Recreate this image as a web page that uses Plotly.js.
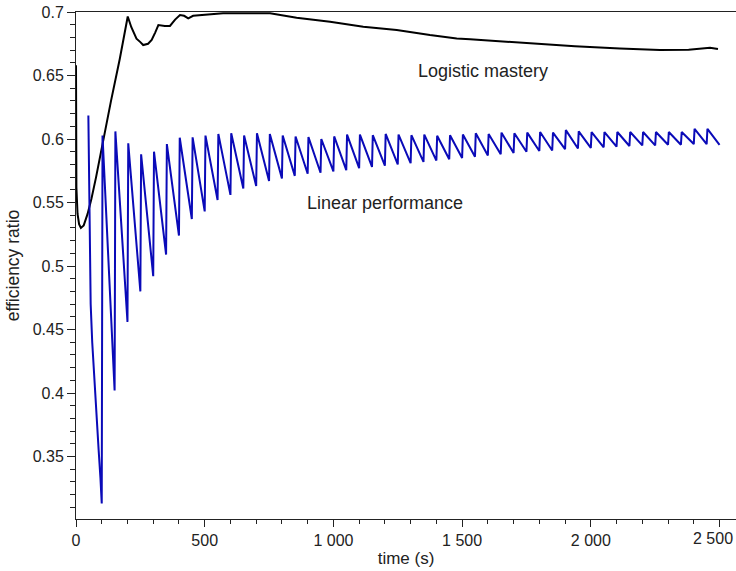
<!DOCTYPE html>
<html>
<head>
<meta charset="utf-8">
<script src="https://cdn.plot.ly/plotly-3.0.1.min.js"></script>
<style>html,body{margin:0;padding:0;background:#fff;}#chart{width:736px;height:571px;}</style>
</head>
<body>
<div id="chart"></div>
<script>
// Logistic mastery (black curve)
const masteryT = [0, 1.5, 6, 12, 19, 30, 45, 60, 78, 95, 110, 136, 170, 201, 215, 235, 249, 261, 280, 294, 308, 320, 345, 365, 385, 404, 420, 436, 455, 482, 530, 571, 650, 754, 857, 987, 1116, 1246, 1375, 1479, 1531, 1650, 1783, 1938, 2113, 2268, 2380, 2430, 2463, 2494];
const masteryV = [0.658, 0.562, 0.541, 0.533, 0.530, 0.532, 0.541, 0.553, 0.570, 0.588, 0.604, 0.630, 0.663, 0.6965, 0.688, 0.679, 0.6765, 0.674, 0.675, 0.678, 0.684, 0.6897, 0.689, 0.689, 0.694, 0.6976, 0.697, 0.695, 0.697, 0.6976, 0.6985, 0.699, 0.699, 0.699, 0.6955, 0.6923, 0.6884, 0.6858, 0.6818, 0.6792, 0.6786, 0.677, 0.6747, 0.673, 0.6712, 0.670, 0.6703, 0.6712, 0.6718, 0.6708];

// Linear performance (blue sawtooth): jump times, peak after each jump, value reached just before next jump
const jumpTimes = [48,100,150,200,250,300,350,400,450,500,550,600,650,700,750,800,850,900,950,1000,1050,1100,1150,1200,1250,1300,1350,1400,1450,1500,1550,1600,1650,1700,1750,1800,1850,1900,1950,2000,2050,2100,2150,2200,2250,2300,2350,2400,2450];
const peakValues = [0.6185, 0.6027, 0.606, 0.5966, 0.588, 0.590, 0.596, 0.601, 0.6013, 0.6027,
  0.604, 0.6045, 0.6027, 0.6045, 0.604, 0.6027, 0.602, 0.6015, 0.600, 0.602,
  0.6035, 0.6035, 0.603, 0.604, 0.6035, 0.603, 0.6035, 0.6025, 0.603, 0.6035,
  0.6045, 0.604, 0.605, 0.6045, 0.605, 0.6055, 0.605, 0.607, 0.606, 0.6055,
  0.6055, 0.6055, 0.6055, 0.6055, 0.6055, 0.6055, 0.6055, 0.608, 0.608];
const troughValues = [0.313, 0.402, 0.456, 0.480, 0.492, 0.509, 0.524, 0.537, 0.543, 0.552,
  0.556, 0.561, 0.563, 0.567, 0.569, 0.571, 0.5726, 0.5734, 0.5745, 0.5755,
  0.577, 0.578, 0.579, 0.580, 0.581, 0.582, 0.583, 0.584, 0.585, 0.586,
  0.587, 0.588, 0.589, 0.590, 0.5905, 0.591, 0.592, 0.5925, 0.593, 0.5935,
  0.594, 0.5945, 0.595, 0.595, 0.5955, 0.5955, 0.596, 0.596, 0.5953];
const endTime = 2500;
// readings inside the first (deep) decline
const earlyT = [50, 53, 57, 63, 71, 80, 88, 95];
const earlyV = [0.59, 0.53, 0.47, 0.44, 0.41, 0.38, 0.355, 0.333];
const riseSec = 3;

// x tick labels
const xTickVals = [0, 500, 1000, 1500, 2000, 2500];
const xTickText = ['0', '500', '1 000', '1 500', '2 000', '2 500'];

const perfX = [], perfY = [];
for (let k = 0; k < jumpTimes.length; k++) {
  const t0 = jumpTimes[k];
  const t1 = (k + 1 < jumpTimes.length) ? jumpTimes[k + 1] : endTime;
  perfX.push(k === 0 ? t0 : t0 + riseSec); perfY.push(peakValues[k]);
  for (let j = 0; j < earlyT.length; j++) {
    if (earlyT[j] > t0 && earlyT[j] < t1) { perfX.push(earlyT[j]); perfY.push(earlyV[j]); }
  }
  perfX.push(t1); perfY.push(troughValues[k]);
}

const FONT = 'Liberation Sans, Arial, sans-serif';
const ink = '#222';
const lastIdx = xTickVals.length - 1;
// the last tick label sits at the right edge of the window: drawn right-anchored so it stays whole
const shownTickText = xTickText.map((s, i) => i === lastIdx ? '' : s);

const data = [
  {x: masteryT, y: masteryV, type: 'scatter', mode: 'lines', line: {color: '#000', width: 2}, hoverinfo: 'skip'},
  {x: perfX, y: perfY, type: 'scatter', mode: 'lines', line: {color: '#0a0ab8', width: 2}, hoverinfo: 'skip'}
];

const layout = {
  width: 736, height: 571,
  margin: {l: 76, r: 0, t: 12, b: 52},
  paper_bgcolor: '#fff', plot_bgcolor: '#fff',
  showlegend: false,
  font: {family: FONT, size: 16, color: ink},
  xaxis: {
    range: [0, 2564], tickmode: 'array', tickvals: xTickVals, ticktext: shownTickText,
    ticks: 'outside', ticklen: 7, tickwidth: 1, tickcolor: ink,
    minor: {tickmode: 'linear', tick0: 0, dtick: 100, ticks: 'outside', ticklen: 4, tickwidth: 1, tickcolor: ink, showgrid: false},
    showline: true, linecolor: ink, linewidth: 1, mirror: true,
    showgrid: false, zeroline: false,
    tickfont: {family: FONT, size: 16, color: ink},
    title: {text: 'time (s)', font: {family: FONT, size: 17, color: ink}, standoff: 3}
  },
  yaxis: {
    range: [0.3008, 0.7], tick0: 0, dtick: 0.05,
    ticks: 'outside', ticklen: 8, tickwidth: 1, tickcolor: ink,
    minor: {dtick: 0.01, ticks: 'outside', ticklen: 5, tickwidth: 1, tickcolor: ink, showgrid: false},
    showline: true, linecolor: ink, linewidth: 1, mirror: false,
    showgrid: false, zeroline: false,
    tickfont: {family: FONT, size: 16, color: ink},
    title: {text: 'efficiency ratio', font: {family: FONT, size: 17.5, color: ink}, standoff: 8}
  },
  annotations: [
    {x: 1583, y: 0.6535, xref: 'x', yref: 'y', text: 'Logistic mastery', showarrow: false, xanchor: 'center', yanchor: 'middle', font: {family: FONT, size: 18, color: ink}},
    {x: 1200, y: 0.5493, xref: 'x', yref: 'y', text: 'Linear performance', showarrow: false, xanchor: 'center', yanchor: 'middle', font: {family: FONT, size: 18, color: ink}},
    {x: 1, y: 0, xref: 'paper', yref: 'paper', text: xTickText[lastIdx], showarrow: false, xanchor: 'right', yanchor: 'top', yshift: -9, xshift: -1, font: {family: FONT, size: 16, color: ink}}
  ]
};

Plotly.newPlot('chart', data, layout, {staticPlot: true, displayModeBar: false});
</script>
</body>
</html>
